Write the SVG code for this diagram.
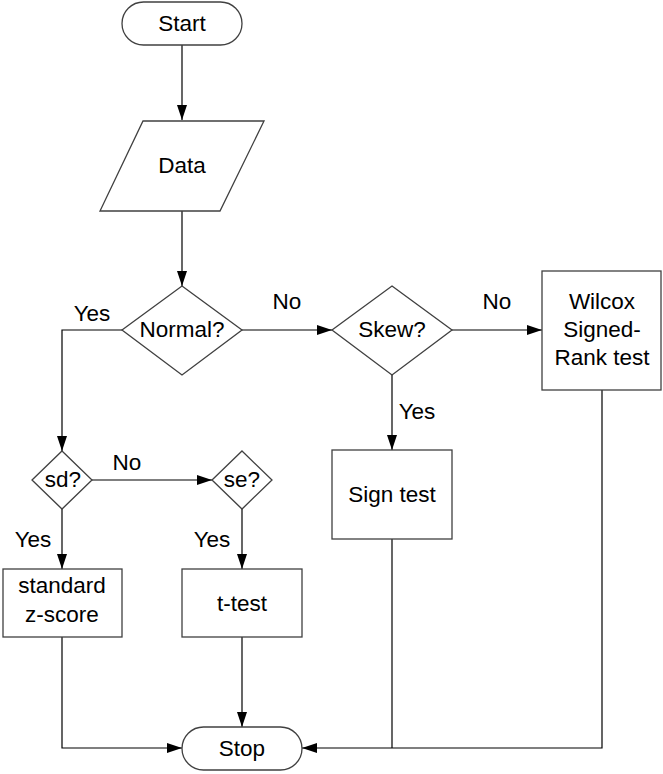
<svg xmlns="http://www.w3.org/2000/svg" width="663" height="774" viewBox="0 0 663 774">
<defs>
<style>
.n{fill:#fff;stroke:#404040;stroke-width:1.3}
.c{fill:none;stroke:#000;stroke-width:1.2}
text{font-family:"Liberation Sans",Arial,sans-serif;font-size:22.5px;fill:#000;text-anchor:middle}
</style>
<marker id="a" viewBox="0 0 15 10" refX="15" refY="5" markerWidth="15" markerHeight="10" markerUnits="userSpaceOnUse" orient="auto">
<path d="M0,0L15,5L0,10z" fill="#000"/>
</marker>
</defs>
<rect width="663" height="774" fill="#fff"/>
<g id="connectors">
<path class="c" d="M182,45V120" marker-end="url(#a)"/>
<path class="c" d="M182,211V286" marker-end="url(#a)"/>
<path class="c" d="M242,330H332" marker-end="url(#a)"/>
<path class="c" d="M452,330H542" marker-end="url(#a)"/>
<path class="c" d="M392,375V450" marker-end="url(#a)"/>
<path class="c" d="M122,330H62V451" marker-end="url(#a)"/>
<path class="c" d="M92,480H212" marker-end="url(#a)"/>
<path class="c" d="M62,509V569" marker-end="url(#a)"/>
<path class="c" d="M242,509V569" marker-end="url(#a)"/>
<path class="c" d="M62,637V748H182" marker-end="url(#a)"/>
<path class="c" d="M242,637V727" marker-end="url(#a)"/>
<path class="c" d="M602,390V748H302" marker-end="url(#a)"/>
<path class="c" d="M392,539V748"/>
<text x="92" y="321">Yes</text>
<text x="287" y="309">No</text>
<text x="497" y="309">No</text>
<text x="417" y="419">Yes</text>
<text x="127" y="470">No</text>
<text x="33" y="547">Yes</text>
<text x="212" y="547">Yes</text>
</g>
<g id="start">
<rect class="n" x="122" y="2" width="120" height="43" rx="21.5"/>
<text x="182" y="31">Start</text>
</g>
<g id="data">
<path class="n" d="M143,121H264L220,211H100z"/>
<text x="182" y="173">Data</text>
</g>
<g id="normal">
<path class="n" d="M182,286L242,330L182,375L122,330z"/>
<text x="182" y="337">Normal?</text>
</g>
<g id="skew">
<path class="n" d="M392,286L452,330L392,375L332,330z"/>
<text x="392" y="337">Skew?</text>
</g>
<g id="wilcox">
<rect class="n" x="542" y="271" width="119" height="119"/>
<text x="602" y="309">Wilcox</text>
<text x="602" y="337">Signed-</text>
<text x="602" y="365">Rank test</text>
</g>
<g id="sign">
<rect class="n" x="332" y="450" width="120" height="89"/>
<text x="392" y="502">Sign test</text>
</g>
<g id="sd">
<path class="n" d="M62,451L92,480L62,509L32,480z"/>
<text x="63" y="487">sd?</text>
</g>
<g id="se">
<path class="n" d="M242,451L272,480L242,509L212,480z"/>
<text x="242" y="487">se?</text>
</g>
<g id="zscore">
<rect class="n" x="3" y="569" width="119" height="68"/>
<text x="62" y="593">standard</text>
<text x="62" y="622">z-score</text>
</g>
<g id="ttest">
<rect class="n" x="182" y="569" width="120" height="68"/>
<text x="242" y="611">t-test</text>
</g>
<g id="stop">
<rect class="n" x="182" y="727" width="120" height="43" rx="21.5"/>
<text x="242" y="756">Stop</text>
</g>
</svg>
